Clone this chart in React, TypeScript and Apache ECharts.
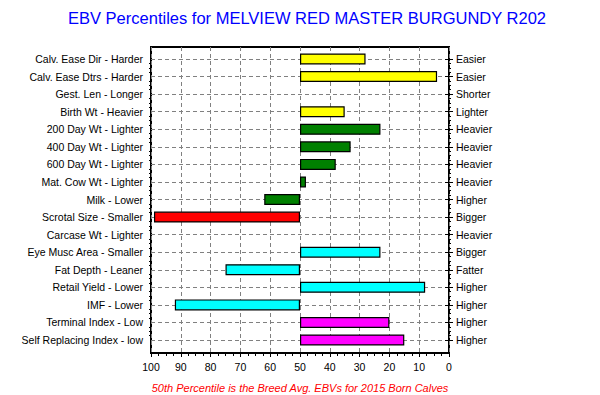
import React, { useEffect, useRef } from "react";
import * as echarts from "echarts";

const traits = [
  "Calv. Ease Dir - Harder",
  "Calv. Ease Dtrs - Harder",
  "Gest. Len - Longer",
  "Birth Wt - Heavier",
  "200 Day Wt - Lighter",
  "400 Day Wt - Lighter",
  "600 Day Wt - Lighter",
  "Mat. Cow Wt - Lighter",
  "Milk - Lower",
  "Scrotal Size - Smaller",
  "Carcase Wt - Lighter",
  "Eye Musc Area - Smaller",
  "Fat Depth - Leaner",
  "Retail Yield - Lower",
  "IMF - Lower",
  "Terminal Index - Low",
  "Self Replacing Index - low",
];
const rightLabels = [
  "Easier", "Easier", "Shorter", "Lighter", "Heavier", "Heavier", "Heavier", "Heavier",
  "Higher", "Bigger", "Heavier", "Bigger", "Fatter", "Higher", "Higher", "Higher", "Higher",
];
const percentiles: (number | null)[] = [
  28, 4, null, 35, 23, 33, 38, 48, 62, 99, null, 23, 75, 8, 92, 20, 15,
];
const barColors = [
  "#ffff00", "#ffff00", "#ffff00", "#ffff00",
  "#008000", "#008000", "#008000", "#008000", "#008000",
  "#ff0000",
  "#00ffff", "#00ffff", "#00ffff", "#00ffff", "#00ffff",
  "#ff00ff", "#ff00ff",
];
const xTicks = [0, 10, 20, 30, 40, 50, 60, 70, 80, 90, 100];
const AVERAGE = 50;

const FONT = "'Liberation Sans', Arial, sans-serif";

export default function App() {
  const ref = useRef<HTMLDivElement>(null);
  useEffect(() => {
    if (!ref.current) return;
    const chart = echarts.init(ref.current, null, { renderer: "svg" });
    const dash = { color: "#808080", type: [4, 3] as any, width: 1 };
    const baseData = percentiles.map((v) => (v == null ? null : Math.min(v, AVERAGE)));
    const barData = percentiles.map((v, i) =>
      v == null
        ? null
        : { value: Math.abs(v - AVERAGE), itemStyle: { color: barColors[i] } }
    );
    chart.setOption({
      animation: false,
      backgroundColor: "#ffffff",
      textStyle: { fontFamily: FONT },
      title: [
        {
          text: "EBV Percentiles for MELVIEW RED MASTER BURGUNDY R202",
          left: 63,
          top: 4,
          textStyle: { color: "#0000ff", fontSize: 16.5, fontWeight: "normal", fontFamily: FONT },
        },
        {
          text: "50th Percentile is the Breed Avg. EBVs for 2015 Born Calves",
          left: "center",
          top: 377,
          textStyle: { color: "#ff0000", fontSize: 11, fontStyle: "italic", fontWeight: "normal", fontFamily: FONT },
        },
      ],
      grid: [
        { left: 151, width: 298, top: 59, height: 281 },
        { left: 151, width: 298, top: 47, height: 306, show: true, borderColor: "#000", borderWidth: 2, backgroundColor: "transparent" },
      ],
      xAxis: [
        { type: "value", gridIndex: 0, min: 0, max: 100, inverse: true, show: false },
        {
          type: "value",
          gridIndex: 1,
          min: 0,
          max: 100,
          interval: 10,
          inverse: true,
          axisLine: { show: false },
          axisTick: { show: true, length: 4, lineStyle: { color: "#000" } },
          minorTick: { show: true, splitNumber: 4, length: 3, lineStyle: { color: "#000" } },
          splitLine: { show: true, lineStyle: dash },
          axisLabel: {
            color: "#000",
            fontSize: 10.5,
            margin: 8,
            fontFamily: FONT,
            formatter: (v: number) => (xTicks.includes(v) ? String(v) : ""),
          },
        },
      ],
      yAxis: [
        {
          type: "category",
          gridIndex: 0,
          data: traits,
          inverse: true,
          boundaryGap: false,
          position: "left",
          axisLine: { show: false },
          axisTick: { show: true, length: 4, lineStyle: { color: "#000" } },
          splitLine: { show: true, lineStyle: dash },
          axisLabel: { color: "#000", fontSize: 10.5, margin: 8, fontFamily: FONT },
        },
        {
          type: "category",
          gridIndex: 0,
          data: rightLabels,
          inverse: true,
          boundaryGap: false,
          position: "right",
          axisLine: { show: false },
          axisTick: { show: true, length: 4, lineStyle: { color: "#000" } },
          splitLine: { show: false },
          axisLabel: { color: "#000", fontSize: 10.5, margin: 7, fontFamily: FONT },
        },
        {
          type: "value",
          gridIndex: 0,
          min: 0,
          max: traits.length - 1,
          interval: 1,
          inverse: true,
          position: "left",
          axisLine: { show: false },
          axisTick: { show: false },
          axisLabel: { show: false },
          splitLine: { show: false },
          minorTick: { show: true, splitNumber: 4, length: 2, lineStyle: { color: "#000" } },
        },
        {
          type: "value",
          gridIndex: 0,
          min: 0,
          max: traits.length - 1,
          interval: 1,
          inverse: true,
          position: "right",
          axisLine: { show: false },
          axisTick: { show: false },
          axisLabel: { show: false },
          splitLine: { show: false },
          minorTick: { show: true, splitNumber: 4, length: 2, lineStyle: { color: "#000" } },
        },
        { type: "value", gridIndex: 1, min: 0, max: 1, show: false },
      ],
      series: [
        {
          type: "bar",
          xAxisIndex: 0,
          yAxisIndex: 0,
          stack: "p",
          data: baseData,
          barWidth: 11,
          clip: false,
          silent: true,
          itemStyle: { color: "transparent", borderWidth: 0 },
        },
        {
          type: "bar",
          xAxisIndex: 0,
          yAxisIndex: 0,
          stack: "p",
          data: barData,
          barWidth: 11,
          clip: false,
          itemStyle: { borderColor: "#000", borderWidth: 1.2 },
        },
      ],
    });
    return () => chart.dispose();
  }, []);
  return <div ref={ref} style={{ width: 600, height: 395, position: "absolute", left: 0, top: 0 }} />;
}
